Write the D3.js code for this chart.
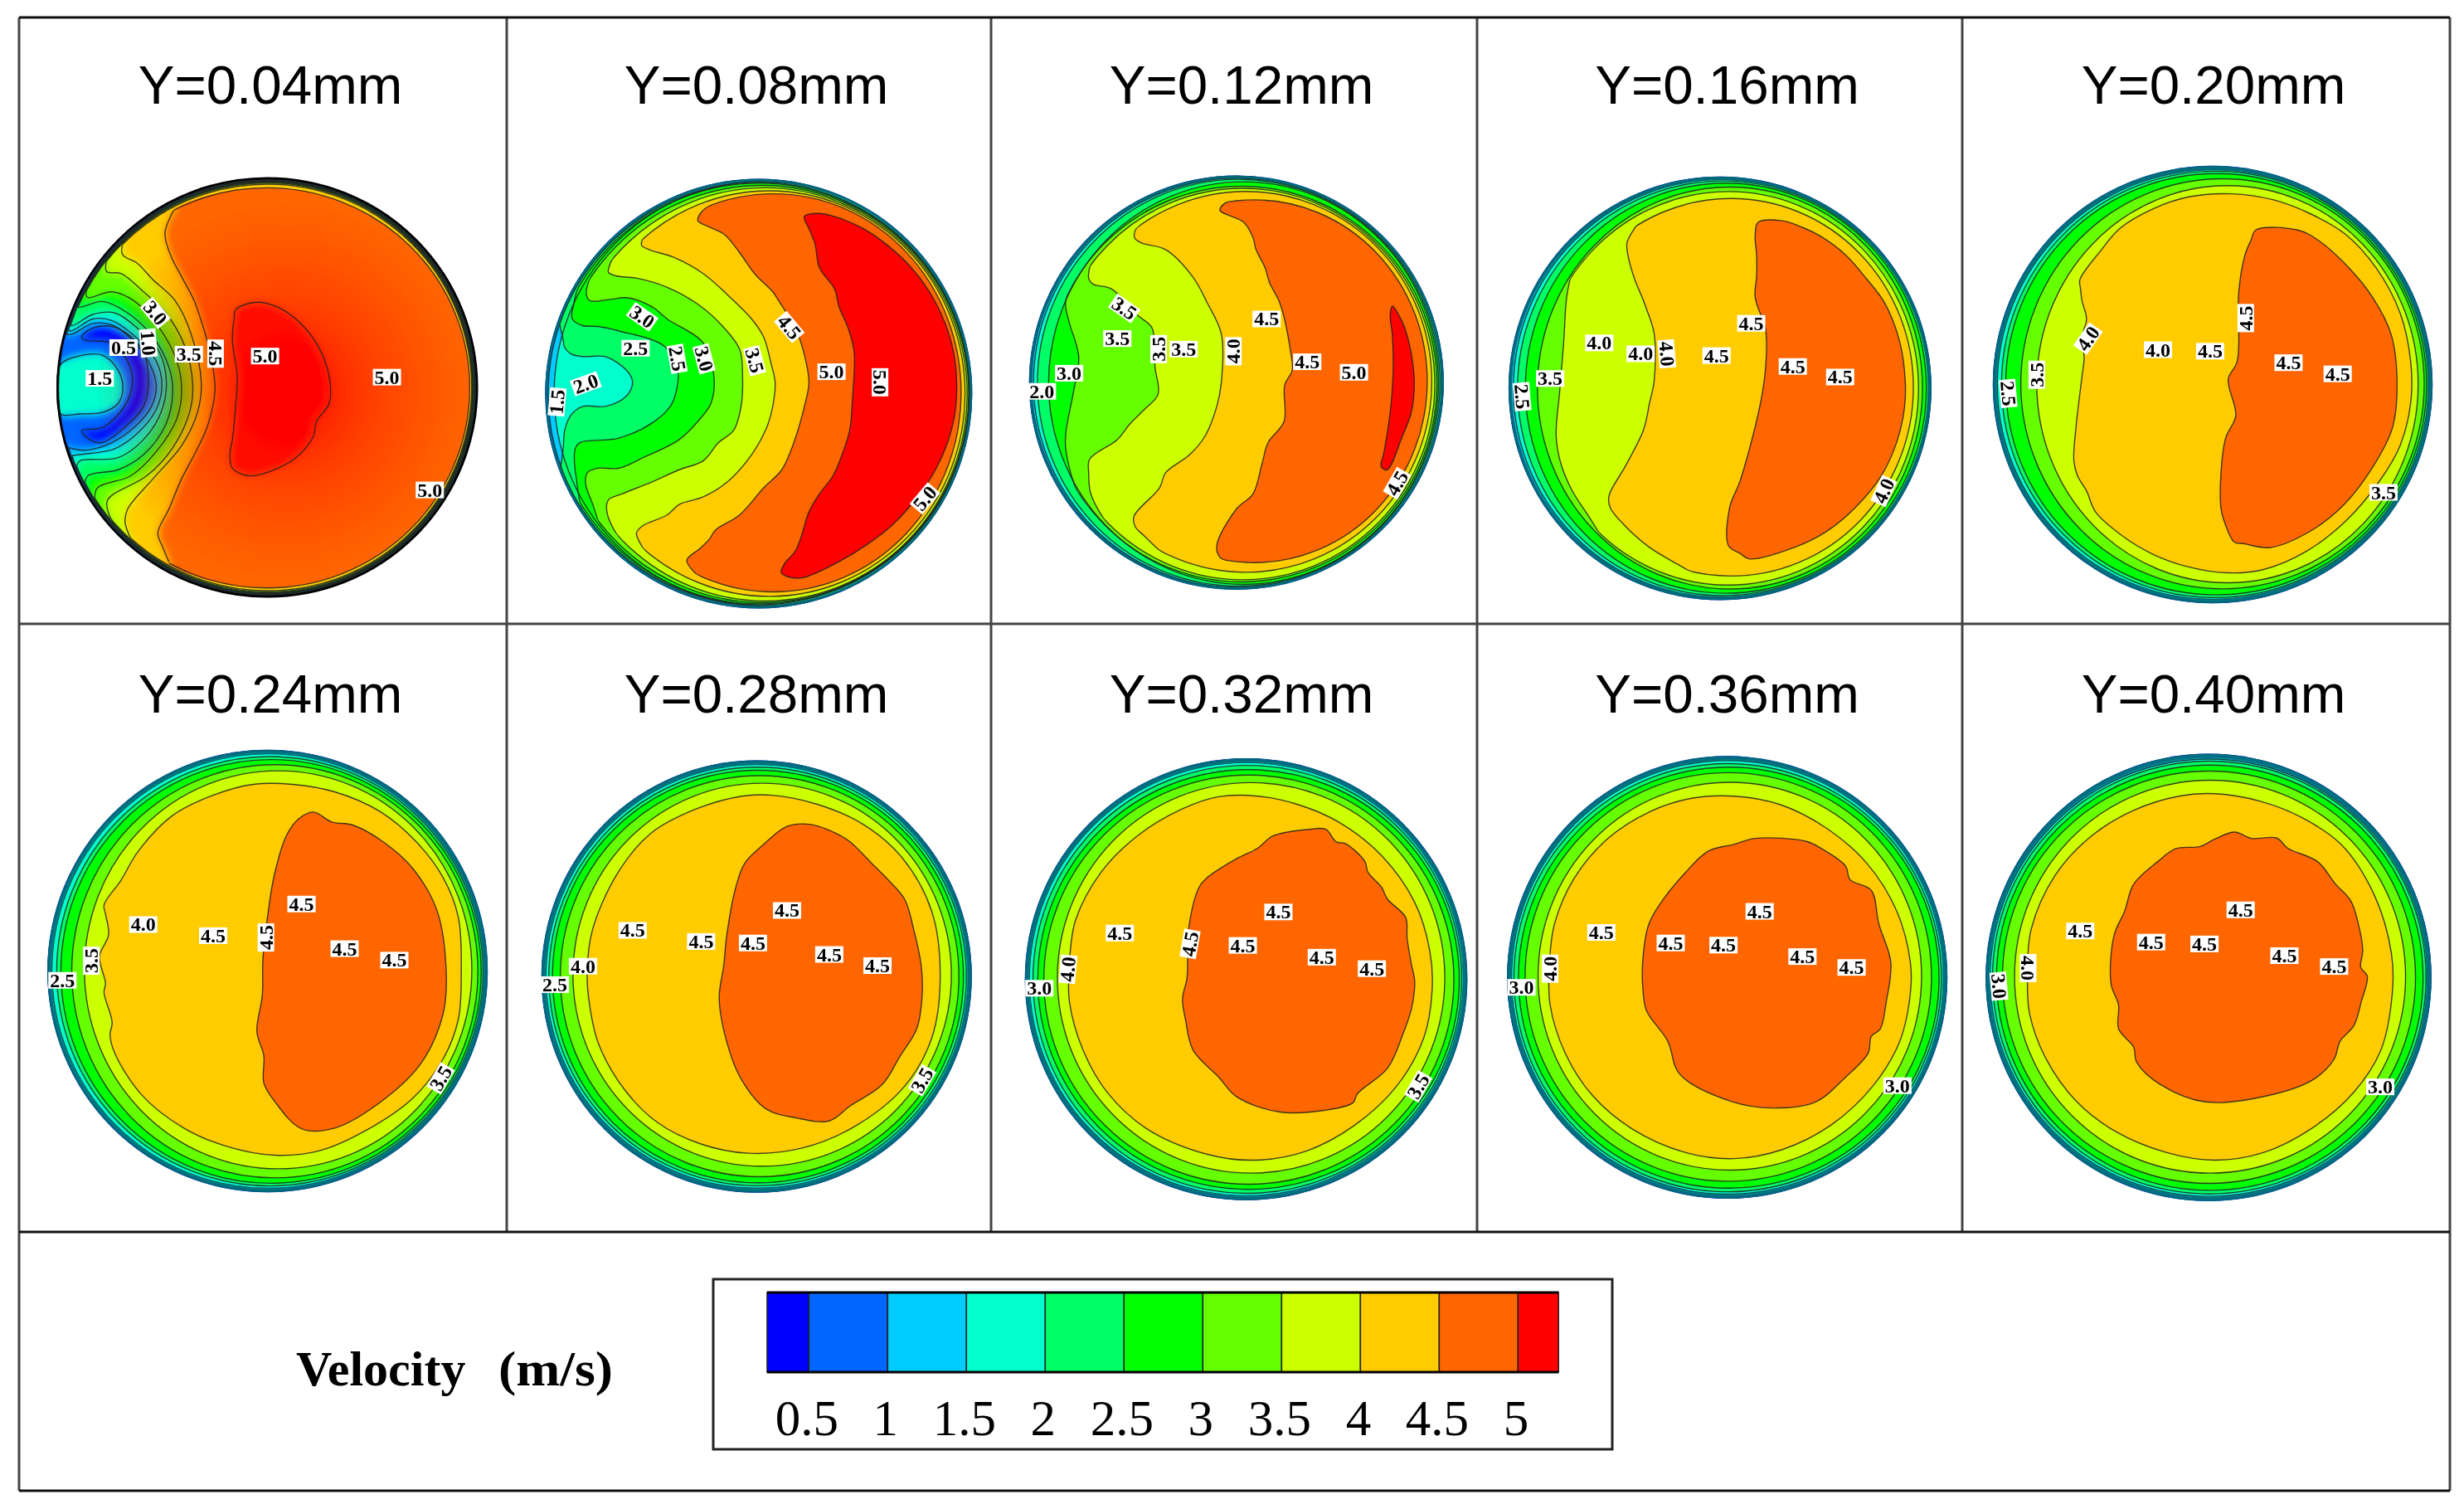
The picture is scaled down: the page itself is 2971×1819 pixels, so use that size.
<!DOCTYPE html>
<html>
<head>
<meta charset="utf-8">
<title>Velocity contours</title>
<script src="https://d3js.org/d3.v7.min.js"></script>
<style>
    html, body { margin: 0; padding: 0; background: #fff; }
    svg { display: block; }
</style>
</head>
<body>
<div id="chart"></div>
<script>
// velocity bands, same for the legend and every disc
const bandLevels = [0.5, 1, 1.5, 2, 2.5, 3, 3.5, 4, 4.5, 5];
const bandColors = ['#0000ff', '#0066ff', '#00ccff', '#00ffcc', '#00ff66', '#00ff00', '#66ff00', '#ccff00', '#ffcc00', '#ff6600', '#ff0000'];
const legendEnds = [0.235, 5.257];
const legendTicks = ['0.5', '1', '1.5', '2', '2.5', '3', '3.5', '4', '4.5', '5'];
const stations = ['Y=0.04mm', 'Y=0.08mm', 'Y=0.12mm', 'Y=0.16mm', 'Y=0.20mm', 'Y=0.24mm', 'Y=0.28mm', 'Y=0.32mm', 'Y=0.36mm', 'Y=0.40mm'];

// contours are digitised on a 0-1568 grid per panel
// rims: level, left, right, top, bottom of the near circular part of a contour
// edges: level, wavy side of that same contour
// islands: level, closed contour
// labels: x, y, text, angle
const p1Rims = [[0.5, 132, 1448, 126, 1508], [1, 136, 1446, 128, 1506], [1.5, 138, 1444, 130, 1504], [2, 140, 1442, 132, 1502], [2.5, 142, 1440, 134, 1500], [3, 144, 1438, 136, 1498], [3.5, 146, 1436, 139, 1495], [4, 148, 1434, 143, 1491], [4.5, 150, 1428, 155, 1482]];
const p1Edges = [
    [1, [[145, 640], [175, 640], [240, 605], [300, 610], [365, 660], [420, 740], [440, 810], [425, 880], [370, 950], [300, 1000], [220, 1025], [175, 1020], [150, 1010]]],
    [1.5, [[150, 610], [168, 630], [240, 590], [300, 595], [370, 645], [440, 730], [458, 810], [440, 890], [385, 965], [310, 1020], [200, 1040], [172, 1045], [160, 1075]]],
    [2, [[160, 580], [172, 612], [240, 575], [310, 570], [380, 620], [450, 700], [472, 800], [455, 900], [400, 990], [320, 1050], [200, 1060], [190, 1075], [190, 1120]]],
    [2.5, [[185, 510], [192, 550], [270, 532], [350, 570], [430, 650], [480, 750], [492, 830], [470, 940], [400, 1040], [320, 1090], [225, 1110], [215, 1150], [235, 1195]]],
    [3, [[225, 470], [222, 518], [300, 500], [370, 530], [450, 620], [505, 730], [520, 820], [505, 920], [440, 1030], [360, 1110], [255, 1150], [248, 1195], [285, 1265]]],
    [3.5, [[290, 370], [283, 432], [330, 440], [400, 500], [470, 570], [530, 680], [555, 810], [545, 900], [490, 1020], [410, 1110], [300, 1175], [285, 1195], [290, 1235], [325, 1300]]],
    [4, [[345, 300], [333, 375], [380, 405], [430, 460], [500, 530], [550, 640], [582, 800], [570, 900], [520, 1010], [430, 1120], [350, 1220], [342, 1265], [370, 1340]]],
    [4.5, [[510, 200], [480, 262], [468, 300], [470, 330], [490, 390], [520, 450], [560, 530], [580, 590], [600, 660], [620, 760], [625, 830], [600, 950], [560, 1040], [520, 1120], [480, 1220], [445, 1300], [460, 1345], [480, 1395]]]
];
const p1Islands = [[5, [[690, 560], [720, 542], [770, 535], [840, 560], [900, 610], [950, 680], [985, 780], [985, 870], [945, 930], [935, 980], [880, 1050], [800, 1095], [730, 1110], [680, 1085], [672, 1040], [680, 990], [690, 880], [695, 780], [680, 660], [685, 590]]]];
const p1Pockets = [
    [0, [[205, 650], [240, 620], [300, 615], [350, 640], [400, 700], [415, 800], [400, 880], [340, 950], [270, 1000], [230, 990], [205, 960], [270, 950], [340, 880], [365, 800], [350, 730], [300, 670], [215, 660]]],
    [1.5, [[140, 740], [200, 712], [270, 710], [320, 760], [335, 820], [320, 870], [270, 900], [200, 905], [140, 905], [128, 820]]]
];
const p1Labels = [[437, 570, '3.0', 50], [415, 670, '1.0', 85], [337, 685, '0.5', 0], [262, 787, '1.5', 0], [543, 707, '3.5', 0], [627, 705, '4.5', 90], [783, 713, '5.0', 0], [1167, 783, '5.0', 0], [1302, 1157, '5.0', 0]];

const p2Rims = [[0.5, 78, 1489, 128, 1547], [1, 85, 1488, 131, 1544], [1.5, 105, 1486, 134, 1541], [2, 82, 1484, 137, 1538], [2.5, 90, 1482, 140, 1535], [3, 110, 1480, 147, 1530], [3.5, 135, 1475, 155, 1525], [4, 170, 1468, 165, 1510], [4.5, 210, 1455, 175, 1495]];
const p2Edges = [
    [2, [[120, 595], [135, 660], [140, 685], [160, 705], [200, 715], [275, 715], [345, 760], [365, 800], [345, 845], [275, 880], [200, 880], [160, 910], [140, 960], [135, 1020], [125, 1095]]],
    [2.5, [[190, 460], [170, 540], [165, 590], [200, 612], [250, 615], [320, 630], [470, 680], [515, 760], [510, 830], [490, 880], [430, 935], [320, 985], [190, 1000], [175, 1020], [172, 1060], [180, 1130], [195, 1230]]],
    [3, [[260, 385], [225, 450], [212, 510], [225, 530], [290, 525], [350, 520], [430, 550], [480, 590], [600, 670], [635, 780], [625, 870], [590, 920], [520, 990], [400, 1050], [320, 1085], [250, 1085], [215, 1100], [210, 1140], [235, 1210], [260, 1290]]],
    [3.5, [[330, 320], [290, 410], [285, 435], [310, 447], [380, 455], [480, 485], [580, 540], [660, 610], [720, 690], [730, 780], [725, 880], [700, 960], [650, 1000], [600, 1060], [520, 1090], [430, 1130], [330, 1170], [285, 1190], [280, 1230], [310, 1300], [350, 1350]]],
    [4, [[440, 270], [400, 320], [395, 345], [420, 360], [500, 385], [600, 440], [680, 510], [760, 590], [800, 650], [825, 740], [838, 800], [830, 880], [810, 950], [760, 1040], [680, 1130], [600, 1180], [520, 1205], [480, 1240], [400, 1275], [378, 1300], [400, 1350], [440, 1400]]],
    [4.5, [[630, 205], [590, 240], [582, 265], [620, 285], [670, 310], [720, 370], [770, 440], [830, 500], [850, 530], [905, 620], [930, 690], [950, 800], [935, 880], [900, 1000], [860, 1090], [800, 1150], [720, 1240], [640, 1290], [620, 1320], [590, 1350], [545, 1390], [570, 1430], [640, 1485]]]
];
const p2Islands = [[5, [[935, 250], [985, 240], [1050, 255], [1130, 290], [1210, 345], [1290, 420], [1350, 500], [1400, 600], [1430, 700], [1440, 800], [1435, 900], [1410, 1000], [1370, 1090], [1310, 1180], [1230, 1270], [1140, 1340], [1040, 1400], [930, 1448], [880, 1445], [858, 1430], [870, 1400], [905, 1360], [925, 1310], [950, 1230], [985, 1170], [1030, 1110], [1060, 1040], [1085, 960], [1095, 850], [1100, 700], [1080, 620], [1050, 550], [1035, 490], [985, 420], [970, 340], [950, 290]]]];
const p2Labels = [[397, 583, '3.0', 35], [375, 687, '2.5', 0], [513, 722, '2.5', 80], [602, 722, '3.0', 75], [770, 728, '3.5', 75], [885, 617, '4.5', 50], [1025, 765, '5.0', 0], [1186, 800, '5.0', 90], [210, 805, '2.0', -20], [115, 865, '1.5', -85], [1335, 1185, '5.0', -50]];

const p3Rims = [[0.5, 60, 1430, 117, 1485], [1, 65, 1428, 120, 1482], [1.5, 72, 1425, 123, 1480], [2, 85, 1420, 127, 1476], [2.5, 122, 1415, 135, 1470], [3, 115, 1410, 150, 1462], [3.5, 130, 1403, 157, 1455], [4, 160, 1393, 167, 1430], [4.5, 230, 1378, 195, 1398]];
const p3Edges = [
    [3, [[190, 480], [178, 540], [190, 600], [222, 715], [205, 830], [180, 960], [178, 1010], [190, 1080], [215, 1165]]],
    [3.5, [[265, 392], [255, 455], [270, 475], [330, 490], [420, 580], [465, 620], [475, 750], [485, 840], [440, 890], [390, 940], [350, 990], [258, 1055], [255, 1100], [262, 1170], [310, 1262]]],
    [4, [[440, 262], [410, 295], [408, 322], [430, 338], [510, 360], [600, 450], [650, 540], [695, 640], [695, 800], [680, 880], [640, 980], [590, 1040], [510, 1100], [490, 1150], [405, 1245], [410, 1280], [440, 1310], [500, 1368]]],
    [4.5, [[730, 190], [690, 228], [770, 270], [800, 320], [810, 360], [840, 420], [855, 470], [890, 540], [925, 700], [930, 760], [905, 810], [903, 930], [850, 1000], [830, 1070], [800, 1170], [745, 1220], [680, 1340], [690, 1380], [730, 1400]]]
];
const p3Islands = [[5, [[1262, 548], [1295, 600], [1320, 680], [1335, 800], [1325, 900], [1295, 980], [1245, 1090], [1225, 1080], [1235, 1030], [1255, 900], [1265, 760], [1262, 640], [1255, 580]]]];
const p3Labels = [[373, 555, '3.5', 35], [350, 655, '3.5', 0], [487, 690, '3.5', -90], [570, 690, '3.5', 0], [735, 697, '4.0', -90], [845, 590, '4.5', 0], [980, 732, '4.5', 0], [1135, 767, '5.0', 0], [190, 770, '3.0', 0], [100, 830, '2.0', 0], [1278, 1135, '4.5', -60]];

const p4Rims = [[0.5, 55, 1452, 93, 1492], [1, 60, 1450, 97, 1488], [1.5, 68, 1448, 100, 1485], [2, 82, 1445, 105, 1480], [2.5, 108, 1438, 112, 1472], [3, 148, 1425, 125, 1458], [3.5, 150, 1412, 140, 1445], [4, 185, 1395, 163, 1415]];
const p4Edges = [
    [3.5, [[300, 320], [262, 410], [245, 490], [235, 640], [222, 800], [210, 950], [225, 1040], [262, 1130], [320, 1220], [370, 1300]]],
    [4, [[500, 215], [468, 265], [445, 310], [448, 350], [470, 430], [495, 490], [510, 530], [535, 610], [535, 770], [520, 840], [500, 930], [440, 1050], [385, 1150], [390, 1190], [440, 1250], [520, 1320], [620, 1380], [700, 1425]]]
];
const p4Islands = [[4.5, [[880, 242], [960, 237], [1030, 260], [1090, 290], [1170, 350], [1240, 430], [1300, 510], [1350, 640], [1368, 770], [1365, 860], [1340, 970], [1290, 1080], [1210, 1180], [1110, 1265], [1000, 1320], [850, 1358], [820, 1340], [782, 1315], [785, 1190], [820, 1100], [860, 960], [890, 830], [905, 720], [905, 600], [870, 490], [875, 420], [875, 350], [870, 290]]]];
const p4Labels = [[353, 642, '4.0', 0], [490, 678, '4.0', 0], [577, 678, '4.0', 85], [857, 577, '4.5', 0], [742, 684, '4.5', 0], [995, 720, '4.5', 0], [1152, 755, '4.5', 0], [190, 760, '3.5', 0], [97, 820, '2.5', 85], [1297, 1133, '4.0', -65]];

const p5Rims = [[0.5, 52, 1505, 85, 1530], [1, 57, 1502, 90, 1526], [1.5, 64, 1498, 95, 1520], [2, 78, 1494, 100, 1514], [2.5, 92, 1488, 108, 1505], [3, 142, 1480, 125, 1485], [3.5, 195, 1460, 148, 1465]];
const p5Islands = [
    [4, [[338, 460], [410, 360], [470, 290], [580, 225], [700, 185], [840, 175], [980, 195], [1100, 240], [1220, 310], [1320, 420], [1400, 570], [1435, 730], [1435, 870], [1400, 1010], [1330, 1130], [1220, 1260], [1090, 1360], [950, 1420], [830, 1432], [690, 1410], [580, 1370], [480, 1310], [390, 1230], [360, 1160], [330, 1110], [318, 1060], [325, 950], [345, 780], [352, 720], [345, 650], [360, 590], [345, 530], [340, 490]]],
    [4.5, [[922, 295], [1060, 295], [1130, 330], [1230, 420], [1310, 520], [1370, 640], [1390, 800], [1375, 950], [1310, 1080], [1210, 1210], [1100, 1295], [970, 1348], [880, 1335], [850, 1330], [820, 1270], [805, 1210], [820, 990], [855, 910], [830, 790], [860, 730], [865, 500], [885, 380], [905, 330]]]
];
const p5Labels = [[365, 655, '4.0', -55], [597, 692, '4.0', 0], [770, 697, '4.5', 0], [888, 587, '4.5', -90], [1030, 735, '4.5', 0], [1193, 772, '4.5', 0], [195, 775, '3.5', -90], [100, 837, '2.5', 85], [1345, 1165, '3.5', 0]];

const p6Rims = [[0.5, 50, 1505, 68, 1530], [1, 54, 1501, 72, 1526], [1.5, 62, 1497, 78, 1520], [2, 78, 1492, 88, 1512], [2.5, 92, 1486, 98, 1503], [3, 128, 1475, 115, 1485], [3.5, 170, 1455, 135, 1455]];
const p6Islands = [
    [4, [[235, 580], [290, 500], [350, 400], [460, 285], [600, 215], [730, 180], [860, 180], [1000, 205], [1150, 270], [1270, 370], [1360, 490], [1410, 620], [1420, 800], [1410, 960], [1360, 1090], [1260, 1220], [1100, 1330], [950, 1395], [800, 1410], [640, 1380], [500, 1320], [360, 1210], [270, 1070], [255, 1010], [262, 970], [235, 870], [240, 840], [220, 750], [250, 680], [240, 610]]],
    [4.5, [[930, 272], [990, 305], [1060, 315], [1160, 370], [1260, 460], [1340, 600], [1370, 800], [1360, 940], [1290, 1100], [1170, 1220], [1000, 1320], [890, 1322], [800, 1230], [765, 1170], [765, 1080], [742, 1000], [760, 880], [762, 760], [780, 600], [800, 480], [840, 350], [880, 295]]]
];
const p6Labels = [[365, 645, '4.0', 0], [597, 682, '4.5', 0], [772, 688, '4.5', -90], [890, 577, '4.5', 0], [1033, 725, '4.5', 0], [1198, 763, '4.5', 0], [193, 765, '3.5', -90], [97, 830, '2.5', 0], [1352, 1155, '3.5', -60]];

const p7Rims = [[0.5, 38, 1460, 62, 1490], [1, 43, 1456, 67, 1485], [1.5, 50, 1452, 73, 1478], [2, 60, 1445, 82, 1470], [2.5, 72, 1435, 92, 1460], [3, 98, 1420, 110, 1440], [3.5, 140, 1395, 135, 1405]];
const p7Islands = [
    [4, [[205, 620], [290, 430], [400, 300], [550, 220], [700, 178], [800, 175], [950, 205], [1100, 270], [1230, 380], [1330, 560], [1358, 780], [1330, 980], [1240, 1140], [1080, 1270], [900, 1345], [720, 1362], [560, 1330], [420, 1260], [310, 1150], [225, 1000], [195, 870], [187, 760]]],
    [4.5, [[850, 278], [930, 272], [1010, 300], [1060, 330], [1130, 400], [1180, 450], [1240, 520], [1270, 620], [1295, 740], [1298, 840], [1280, 950], [1225, 1040], [1165, 1135], [1060, 1205], [990, 1255], [880, 1245], [780, 1215], [700, 1120], [655, 1010], [625, 850], [640, 740], [650, 640], [680, 480], [710, 400], [770, 340]]]
];
const p7Labels = [[338, 623, '4.5', 0], [565, 660, '4.5', 0], [737, 665, '4.5', 0], [850, 557, '4.5', 0], [990, 703, '4.5', 0], [1150, 740, '4.5', 0], [173, 742, '4.0', 0], [80, 803, '2.5', 0], [1298, 1120, '3.5', -60]];

const p8Rims = [[0.5, 60, 1522, 55, 1515], [1, 66, 1518, 60, 1510], [1.5, 72, 1512, 66, 1503], [2, 84, 1506, 76, 1495], [2.5, 100, 1498, 90, 1482], [3, 120, 1480, 108, 1465], [3.5, 165, 1450, 133, 1428]];
const p8Islands = [
    [4, [[225, 590], [310, 430], [430, 310], [580, 220], [700, 180], [830, 178], [960, 205], [1100, 265], [1240, 375], [1350, 530], [1400, 690], [1408, 820], [1380, 980], [1290, 1140], [1150, 1270], [990, 1355], [820, 1385], [660, 1365], [460, 1280], [330, 1160], [250, 1020], [205, 860], [205, 730]]],
    [4.5, [[880, 310], [1000, 288], [1055, 288], [1090, 330], [1120, 335], [1185, 395], [1195, 430], [1240, 480], [1260, 520], [1320, 580], [1325, 650], [1340, 740], [1350, 790], [1340, 880], [1310, 970], [1260, 1080], [1160, 1165], [1145, 1195], [1050, 1220], [900, 1225], [760, 1175], [700, 1110], [615, 1020], [590, 920], [580, 850], [595, 780], [600, 620], [635, 480], [660, 450], [760, 385], [830, 350]]]
];
const p8Labels = [[372, 632, '4.5', 0], [605, 668, '4.5', -80], [780, 673, '4.5', 0], [898, 562, '4.5', 0], [1042, 712, '4.5', 0], [1208, 750, '4.5', 0], [200, 752, '4.0', -85], [105, 815, '3.0', 0], [1362, 1140, '3.5', -60]];

const p9Rims = [[0.5, 50, 1505, 48, 1510], [1, 56, 1500, 54, 1505], [1.5, 62, 1495, 60, 1498], [2, 70, 1488, 70, 1490], [2.5, 85, 1480, 82, 1478], [3, 107, 1455, 100, 1455], [3.5, 150, 1422, 132, 1418]];
const p9Islands = [
    [4, [[205, 600], [270, 450], [380, 320], [520, 230], [660, 185], [800, 178], [950, 205], [1100, 280], [1240, 400], [1340, 560], [1385, 730], [1385, 830], [1350, 990], [1260, 1140], [1120, 1270], [960, 1350], [800, 1380], [640, 1360], [460, 1280], [330, 1170], [240, 1030], [190, 870], [188, 730]]],
    [4.5, [[870, 318], [1040, 328], [1090, 352], [1170, 410], [1185, 455], [1255, 490], [1280, 600], [1320, 730], [1305, 860], [1285, 950], [1255, 975], [1245, 1030], [1170, 1110], [1070, 1192], [930, 1212], [790, 1190], [620, 1100], [580, 990], [510, 890], [498, 820], [497, 730], [515, 610], [545, 550], [640, 430], [715, 360], [800, 338]]]
];
const p9Labels = [[360, 630, '4.5', 0], [590, 665, '4.5', 0], [765, 672, '4.5', 0], [885, 560, '4.5', 0], [1027, 710, '4.5', 0], [1190, 746, '4.5', 0], [190, 750, '4.0', -90], [95, 812, '3.0', 0], [1342, 1138, '3.0', 0]];

const p10Rims = [[0.5, 42, 1515, 40, 1518], [1, 47, 1510, 47, 1512], [1.5, 54, 1505, 55, 1505], [2, 62, 1500, 62, 1497], [2.5, 75, 1490, 75, 1485], [3, 95, 1465, 95, 1462], [3.5, 135, 1432, 125, 1428]];
const p10Islands = [
    [4, [[190, 620], [270, 440], [390, 310], [530, 225], [680, 178], [800, 170], [950, 195], [1090, 250], [1220, 340], [1330, 510], [1385, 700], [1388, 830], [1350, 1020], [1260, 1160], [1120, 1280], [960, 1360], [800, 1385], [640, 1360], [470, 1290], [340, 1190], [240, 1050], [185, 900], [178, 770]]],
    [4.5, [[865, 297], [920, 318], [1005, 317], [1040, 350], [1140, 395], [1200, 470], [1250, 525], [1275, 600], [1290, 690], [1283, 745], [1305, 775], [1285, 860], [1260, 940], [1215, 990], [1195, 1050], [1130, 1115], [1000, 1165], [770, 1192], [620, 1135], [540, 1060], [530, 1010], [480, 950], [480, 870], [455, 800], [465, 640], [500, 560], [530, 470], [610, 395], [670, 352], [750, 345], [800, 320]]]
];
const p10Labels = [[353, 625, '4.5', 0], [588, 662, '4.5', 0], [765, 668, '4.5', 0], [885, 555, '4.5', 0], [1030, 707, '4.5', 0], [1195, 743, '4.5', 0], [180, 748, '4.0', 90], [83, 808, '3.0', 85], [1348, 1142, '3.0', 0]];

// layout, all in page pixels
const width = 2971, height = 1819;
const gridX = [23, 611, 1195, 1781, 2366, 2954];
const gridY = [21, 752, 1485, 1797];
const panelBoxes = [[20, 170, 600], [630, 170, 570], [1220, 170, 570], [1800, 180, 570], [2385, 170, 570], [40, 880, 570], [640, 895, 570], [1215, 895, 570], [1800, 895, 570], [2380, 895, 570]];
// dark outer ring, where the tightest contours merge
const rimShade = [0, 3, 3, 4, 5, 5.5, 5.5, 5.5, 5.5, 5.5];

const panels = [
    {rims: p1Rims, edges: p1Edges, islands: p1Islands, pockets: p1Pockets, labels: p1Labels, smooth: true},
    {rims: p2Rims, edges: p2Edges, islands: p2Islands, labels: p2Labels},
    {rims: p3Rims, edges: p3Edges, islands: p3Islands, labels: p3Labels},
    {rims: p4Rims, edges: p4Edges, islands: p4Islands, labels: p4Labels},
    {rims: p5Rims, islands: p5Islands, labels: p5Labels},
    {rims: p6Rims, islands: p6Islands, labels: p6Labels},
    {rims: p7Rims, islands: p7Islands, labels: p7Labels},
    {rims: p8Rims, islands: p8Islands, labels: p8Labels},
    {rims: p9Rims, islands: p9Islands, labels: p9Labels},
    {rims: p10Rims, islands: p10Islands, labels: p10Labels}
];

var bandColor = d3.scaleThreshold().domain(bandLevels).range(bandColors);

var svg = d3.select('#chart').append('svg')
    .attr('width', width)
    .attr('height', height)
    .style('background', '#fff');
var defs = svg.append('defs');

defs.append('filter').attr('id', 'soft').attr('x', '-5%').attr('y', '-5%').attr('width', '110%').attr('height', '110%')
    .append('feGaussianBlur').attr('stdDeviation', 0.7);
defs.append('filter').attr('id', 'smear').attr('x', '-10%').attr('y', '-10%').attr('width', '120%').attr('height', '120%')
    .append('feGaussianBlur').attr('stdDeviation', 5);
var hot = defs.append('radialGradient').attr('id', 'hot');
hot.append('stop').attr('offset', '0%').attr('stop-color', '#ff0000').attr('stop-opacity', 0.95);
hot.append('stop').attr('offset', '45%').attr('stop-color', '#ff1000').attr('stop-opacity', 0.45);
hot.append('stop').attr('offset', '100%').attr('stop-color', '#ff2000').attr('stop-opacity', 0);

// grid
var grid = svg.append('g').attr('fill', 'none');
gridX.forEach(function (x, i) {
    var outer = i === 0 || i === gridX.length - 1;
    grid.append('line')
        .attr('x1', x).attr('x2', x)
        .attr('y1', gridY[0]).attr('y2', outer ? gridY[3] : gridY[2])
        .attr('stroke', '#444').attr('stroke-width', 3);
});
gridY.forEach(function (y, i) {
    grid.append('line')
        .attr('x1', gridX[0]).attr('x2', gridX[5])
        .attr('y1', y).attr('y2', y)
        .attr('stroke', i === 1 ? '#444' : '#111').attr('stroke-width', 3);
});

// titles
stations.forEach(function (t, i) {
    var col = i % 5, row = Math.floor(i / 5);
    svg.append('text')
        .attr('x', (gridX[col] + gridX[col + 1]) / 2 + 9)
        .attr('y', row === 0 ? 125 : 859)
        .attr('text-anchor', 'middle')
        .attr('font-family', '"Liberation Sans", Arial, sans-serif')
        .attr('font-size', 65.5)
        .attr('fill', '#000')
        .text(t);
});

var openLine = d3.line().curve(d3.curveCatmullRom.alpha(0.5));
var closedLine = d3.line().curve(d3.curveCatmullRomClosed.alpha(0.5));

panels.forEach(function (p, i) {
    var box = panelBoxes[i];
    var x = d3.scaleLinear().domain([0, 1568]).range([box[0], box[0] + box[2]]);
    var y = d3.scaleLinear().domain([0, 1568]).range([box[1], box[1] + 570]);
    var scaled = (pts) => pts.map((d) => [x(d[0]), y(d[1])]);

    var g = svg.append('g').attr('filter', 'url(#soft)');

    var edgeOf = (level) => (p.edges || []).find((e) => e[0] === level);
    // part of the panel on the high side of an edge, out past the disc
    var edgeRegion = function (pts) {
        var a = pts[0], b = pts[pts.length - 1];
        return openLine(scaled(pts)) +
            'L' + x(b[0]) + ',' + y(3000) +
            'L' + x(4000) + ',' + y(3000) +
            'L' + x(4000) + ',' + y(-1500) +
            'L' + x(a[0]) + ',' + y(-1500) + 'Z';
    };
    var setEllipse = function (sel, r) {
        return sel
            .attr('cx', (x(r[1]) + x(r[2])) / 2)
            .attr('cy', (y(r[3]) + y(r[4])) / 2)
            .attr('rx', (x(r[2]) - x(r[1])) / 2)
            .attr('ry', (y(r[4]) - y(r[3])) / 2);
    };

    p.rims.forEach(function (r) {
        var e = edgeOf(r[0]);
        if (!e) return;
        setEllipse(defs.append('clipPath').attr('id', 'rim' + i + '_' + r[0] * 10).append('ellipse'), r);
        defs.append('clipPath').attr('id', 'edge' + i + '_' + r[0] * 10).append('path').attr('d', edgeRegion(e[1]));
    });

    var fills = function (parent, useRim) {
        p.rims.forEach(function (r) {
            var e = edgeOf(r[0]);
            if (!e) {
                setEllipse(parent.append('ellipse'), r).attr('fill', bandColor(r[0]));
            } else {
                var path = parent.append('path').attr('d', edgeRegion(e[1])).attr('fill', bandColor(r[0]));
                if (useRim) path.attr('clip-path', 'url(#rim' + i + '_' + r[0] * 10 + ')');
            }
        });
        (p.islands || []).forEach(function (c) {
            parent.append('path').attr('d', closedLine(scaled(c[1]))).attr('fill', bandColor(c[0]));
        });
        (p.pockets || []).forEach(function (c) {
            parent.append('path').attr('d', closedLine(scaled(c[1]))).attr('fill', bandColor(c[0]));
        });
    };

    // base disc under every contour
    var outer = p.rims[0];
    var baseBox = [0, outer[1] - 3, outer[2] + 3, outer[3] - 3, outer[4] + 3];
    setEllipse(g.append('ellipse'), baseBox).attr('fill', bandColors[0]);

    fills(g, true);

    // first panel is shaded, the rest are flat bands
    if (p.smooth) {
        var last = p.rims[p.rims.length - 1];
        setEllipse(defs.append('clipPath').attr('id', 'shade' + i).append('ellipse'), [0, p.rims[1][1], last[2], last[3], last[4]]);
        var shade = g.append('g').attr('clip-path', 'url(#shade' + i + ')');
        var smear = shade.append('g').attr('filter', 'url(#smear)');
        fills(smear, false);
        shade.append('circle')
            .attr('cx', x(850)).attr('cy', y(830)).attr('r', x(850) - x(250))
            .attr('fill', 'url(#hot)');
    }

    // contour lines
    var lines = g.append('g')
        .attr('fill', 'none')
        .attr('stroke', '#222')
        .attr('stroke-opacity', 0.85)
        .attr('stroke-width', 1.4);
    p.rims.forEach(function (r) {
        var e = edgeOf(r[0]);
        var ring = setEllipse(lines.append('ellipse'), r);
        if (e) {
            ring.attr('clip-path', 'url(#edge' + i + '_' + r[0] * 10 + ')');
            lines.append('path').attr('d', openLine(scaled(e[1]))).attr('clip-path', 'url(#rim' + i + '_' + r[0] * 10 + ')');
        }
    });
    (p.islands || []).concat(p.pockets || []).forEach(function (c) {
        lines.append('path').attr('d', closedLine(scaled(c[1])));
    });
    if (p.smooth) {
        setEllipse(lines.append('ellipse'), baseBox)
            .attr('stroke', '#000').attr('stroke-opacity', 1).attr('stroke-width', 2.6);
    } else {
        // sits just inside the outer edge
        var w = rimShade[i];
        lines.append('ellipse')
            .attr('cx', (x(baseBox[1]) + x(baseBox[2])) / 2)
            .attr('cy', (y(baseBox[3]) + y(baseBox[4])) / 2)
            .attr('rx', (x(baseBox[2]) - x(baseBox[1])) / 2 - w / 2)
            .attr('ry', (y(baseBox[4]) - y(baseBox[3])) / 2 - w / 2)
            .attr('stroke', '#007480')
            .attr('stroke-opacity', 0.85)
            .attr('stroke-width', w);
    }

    // contour labels
    var tags = g.selectAll('g.tag').data(p.labels).enter().append('g')
        .attr('class', 'tag')
        .attr('transform', (d) => 'translate(' + x(d[0]) + ',' + y(d[1]) + ') rotate(' + d[3] + ')');
    tags.append('rect')
        .attr('x', -17).attr('y', -10).attr('width', 34).attr('height', 20)
        .attr('fill', '#fff');
    tags.append('text')
        .attr('text-anchor', 'middle')
        .attr('y', 8)
        .attr('font-family', '"Liberation Serif", "Times New Roman", serif')
        .attr('font-weight', 'bold')
        .attr('font-size', 24)
        .attr('fill', '#000')
        .text((d) => d[2]);
});

// legend
svg.append('rect')
    .attr('x', 860).attr('y', 1542).attr('width', 1084).attr('height', 205)
    .attr('fill', '#fff').attr('stroke', '#222').attr('stroke-width', 3);

var legendX = d3.scaleLinear()
    .domain([0.5, 5])
    .range([975.3, 1830.4]);
var barEdges = [legendEnds[0]].concat(bandLevels, [legendEnds[1]]);

svg.append('g').selectAll('rect').data(d3.pairs(barEdges)).enter().append('rect')
    .attr('x', (d) => legendX(d[0]))
    .attr('y', 1558)
    .attr('width', (d) => legendX(d[1]) - legendX(d[0]))
    .attr('height', 96)
    .attr('fill', (d, i) => bandColors[i])
    .attr('stroke', '#222')
    .attr('stroke-width', 1.5);
svg.append('line').attr('x1', legendX(legendEnds[0])).attr('x2', legendX(legendEnds[1])).attr('y1', 1558).attr('y2', 1558).attr('stroke', '#000').attr('stroke-width', 3);
svg.append('line').attr('x1', legendX(legendEnds[0])).attr('x2', legendX(legendEnds[1])).attr('y1', 1654).attr('y2', 1654).attr('stroke', '#000').attr('stroke-width', 3);

var legendAxis = svg.append('g')
    .attr('transform', 'translate(-3,1680)')
    .call(d3.axisBottom(legendX)
        .tickValues(legendTicks.map(Number))
        .tickFormat((d, i) => legendTicks[i])
        .tickSize(0)
        .tickPadding(0));
legendAxis.select('.domain').remove();
legendAxis.selectAll('text')
    .attr('y', 50)
    .attr('dy', 0)
    .attr('font-family', '"Liberation Serif", "Times New Roman", serif')
    .attr('font-size', 61)
    .attr('fill', '#000');

// legend title
svg.append('text')
    .attr('x', 357).attr('y', 1670)
    .attr('font-family', '"Liberation Serif", "Times New Roman", serif')
    .attr('font-weight', 'bold')
    .attr('font-size', 60)
    .attr('fill', '#000')
    .text('Velocity');
svg.append('text')
    .attr('x', 601).attr('y', 1670)
    .attr('textLength', 138)
    .attr('lengthAdjust', 'spacingAndGlyphs')
    .attr('font-family', '"Liberation Serif", "Times New Roman", serif')
    .attr('font-weight', 'bold')
    .attr('font-size', 60)
    .attr('fill', '#000')
    .text('(m/s)');
</script>
</body>
</html>
